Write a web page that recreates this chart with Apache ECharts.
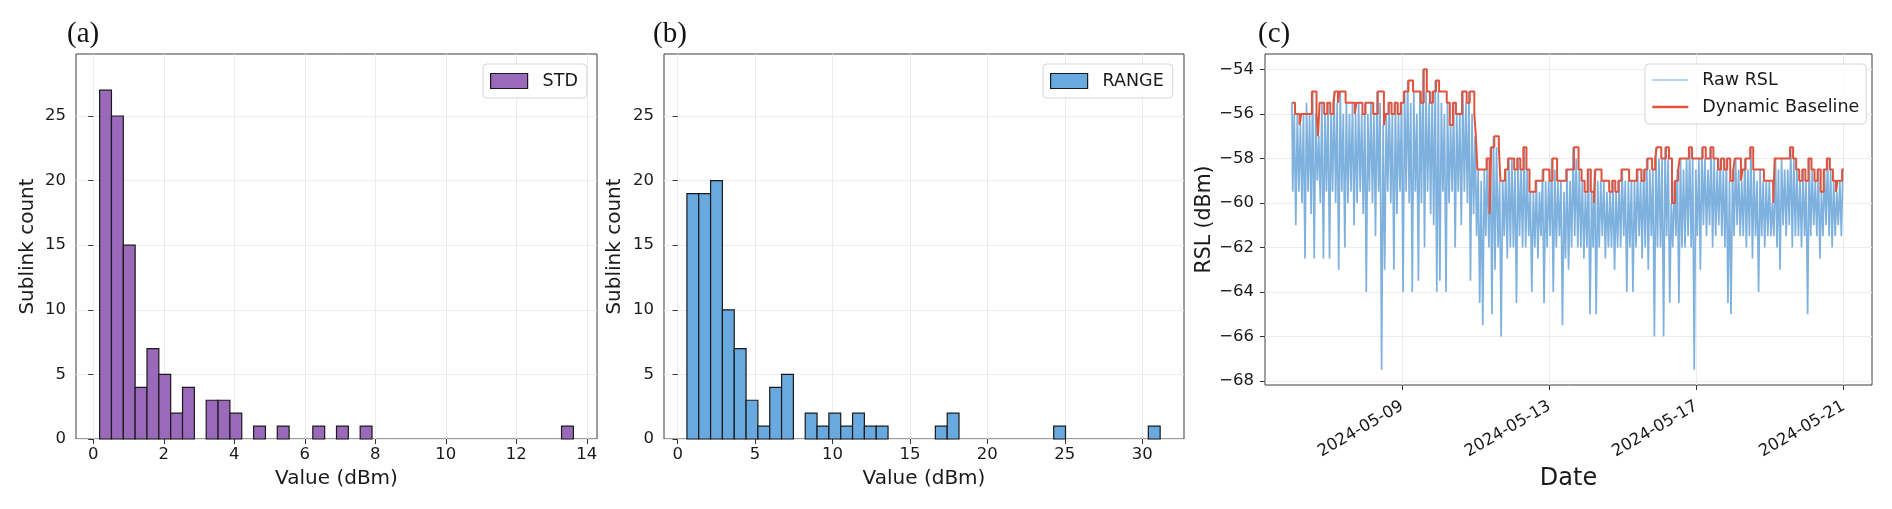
<!DOCTYPE html>
<html>
<head>
<meta charset="utf-8">
<script src="https://cdn.jsdelivr.net/npm/echarts@6.0.0/dist/echarts.min.js"></script>
<style>
html, body { margin: 0; padding: 0; background: #fff; }
#chart { width: 1892px; height: 509px; }
</style>
</head>
<body>
<div id="chart"></div>
<script>
// histogram counts, 40 equal bins each
var stdBinStart = 0.18, stdBinWidth = 0.336;
var stdCounts = [27, 25, 15, 4, 7, 5, 2, 4, 0, 3, 3, 2, 0, 1, 0, 1, 0, 0, 1, 0,
                 1, 0, 1, 0, 0, 0, 0, 0, 0, 0, 0, 0, 0, 0, 0, 0, 0, 0, 0, 1];
var rangeBinStart = 0.6, rangeBinWidth = 0.764;
var rangeCounts = [19, 19, 20, 10, 7, 3, 1, 4, 5, 0, 2, 1, 2, 1, 2, 1, 1, 0, 0, 0,
                   0, 1, 2, 0, 0, 0, 0, 0, 0, 0, 0, 1, 0, 0, 0, 0, 0, 0, 0, 1];
var stdTicks = [0, 2, 4, 6, 8, 10, 12, 14];
var rangeTicks = [0, 5, 10, 15, 20, 25, 30];
var countTicks = [0, 5, 10, 15, 20, 25];

// raw RSL, hourly, one array per day starting 2024-05-06 00:00
var d06 = [-55.5,-59.5,-56,-61,-56,-59.5,-56.5,-60,-56,-62.5,-55.5,-59.5,-56,-60.5,-55,-62.5,-56,-59,-57,-60,-55.5,-62.5,-56,-59.5];
var d07 = [-55.5,-62.5,-56,-59.5,-55,-60,-55.5,-63,-55,-59.5,-56,-62,-55.5,-60,-56,-59.5,-55.5,-61,-56,-60,-55.5,-59.5,-56,-60.5];
var d08 = [-55.5,-64,-56,-59.5,-55.5,-60,-56,-61.5,-55,-59.5,-55.5,-67.5,-56.5,-63,-56,-59.5,-55.5,-60,-56,-63,-55.5,-60.5,-56,-59.5];
var d09 = [-55.5,-64,-55,-59.5,-54.5,-60,-55.5,-64,-55,-59.5,-56,-63.5,-55,-60,-54,-62,-55,-59.5,-55.5,-60.5,-55,-61,-54.5,-64];
var d10 = [-55,-63.5,-55.5,-59.5,-56,-64,-55.5,-60,-56.5,-59.5,-55.5,-62,-56,-59.5,-56,-61,-55,-59.5,-55.5,-60,-55,-63.5,-56,-60.5];
var d11 = [-57,-61.5,-58.5,-64.5,-59,-65.5,-58.5,-61.5,-58,-62,-57.5,-65,-57,-63,-57.5,-62,-59,-66,-59,-61.5,-58.5,-62.5,-58,-62];
var d12 = [-58,-62,-58.5,-64.5,-58,-61.5,-58.5,-62,-57.5,-62,-58.5,-61.5,-59.5,-64,-59.5,-62,-59,-62.5,-59.5,-61.5,-58.5,-64.5,-59,-62];
var d13 = [-59,-61.5,-58,-64,-58.5,-62,-59,-61.5,-59,-65.5,-59.5,-62.5,-58.5,-63,-59,-62,-57.5,-61.5,-58,-62,-58.5,-62,-59,-62.5];
var d14 = [-59.5,-62,-58.5,-65,-59.5,-62,-58.5,-65,-59,-62,-59,-61.5,-59,-62.5,-59.5,-62,-59.5,-62,-59,-63,-59.5,-62,-59,-62];
var d15 = [-58.5,-61.5,-59,-64,-59,-62,-59,-64,-59,-62,-58.5,-61.5,-59,-62.5,-58.5,-62,-58,-63,-58.5,-61.5,-58.5,-66,-57.5,-62];
var d16 = [-58,-62,-58,-66,-57.5,-61.5,-58,-64.5,-60,-62,-59,-61.5,-58.5,-64.5,-58,-62,-58.5,-62,-58,-61.5,-57.5,-62,-58,-67.5];
var d17 = [-58.5,-61.5,-58,-63,-57.5,-61,-58,-61.5,-58.5,-61,-57.5,-62,-58,-61.5,-58.5,-61,-58,-61.5,-58.5,-62,-58,-64.5,-59,-65];
var d18 = [-58.5,-61.5,-58,-61,-58.5,-61.5,-59,-61.5,-58,-62,-58.5,-61.5,-57.5,-62.5,-58.5,-61.5,-59,-64,-58.5,-61.5,-59,-62,-59,-61.5];
var d19 = [-59,-61.5,-60,-61.5,-58,-62,-58.5,-63,-58,-61,-58.5,-61.5,-58.5,-61,-57.5,-62,-58,-61.5,-58.5,-61.5,-59,-62,-58.5,-61.5];
var d20 = [-59,-65,-58,-61.5,-58.5,-61,-59,-61.5,-58.5,-62.5,-59.5,-61.5,-58.5,-61,-58,-61.5,-58.5,-62,-59,-61.5,-59.5,-61,-59,-61.5];
var rawLast = -58.5; // 2024-05-21 00:00

// dynamic baseline: hour (from 05-06 00:00) where a level starts, and the level
var baseHours = [0,2,5,6,13,16,17,18,21,23,25,27,28,30,31,35,41,42,46,48,
  53,56,60,61,63,65,67,69,71,73,76,79,84,86,88,90,92,94,96,101,
  103,105,107,111,114,116,119,120,121,127,129,130,132,135,136,139,141,145,147,149,
  151,153,155,159,164,168,170,173,179,184,187,189,191,193,195,197,198,202,207,209,
  211,213,215,220,225,228,230,232,235,237,238,241,244,246,248,250,252,253,259,261,
  268,270,273,275,278,280,282,284,286,288,289,293,294,296,299,301,308,314,315,325,
  327,329,331,333,335,337,339,341,343,345,347,349,351,353,355,356,359,360];
var baseLevels = [-55.5,-56,-56.5,-56,-55,-56,-57,-55.5,-56,-55.5,-56,-55.5,-55,-55.5,-55,-55.5,-56,-55.5,-56,-55.5,
  -56,-55,-56.5,-56,-55.5,-56,-55.5,-56,-55.5,-55,-54.5,-55,-55.5,-54,-55,-55.5,-55,-54.5,-55,-55.5,
  -56.5,-55.5,-56,-55,-55.5,-55,-56,-57,-58.5,-58,-60.5,-57.5,-57,-57.5,-59,-58.5,-58,-58.5,-58,-58.5,
  -57.5,-58.5,-59.5,-59,-58.5,-59,-58,-59,-58.5,-57.5,-58.5,-59,-59.5,-58.5,-59.5,-60,-58.5,-59,-59.5,-59,
  -59.5,-59,-58.5,-59,-58.5,-59,-58.5,-58,-58.5,-58,-57.5,-58,-57.5,-58,-60,-59,-58.5,-58,-57.5,-58,
  -57.5,-58,-57.5,-58,-58.5,-58,-58.5,-58,-59,-58.5,-58,-59,-58.5,-58,-57.5,-58.5,-59,-60,-58,-57.5,
  -58,-58.5,-59,-58.5,-59,-58,-58.5,-59,-58.5,-59.5,-58.5,-58,-58.5,-59,-59.5,-59,-58.5,-58.5];
var dateTicks = ['2024-05-09', '2024-05-13', '2024-05-17', '2024-05-21'];
var rslTicks = [-68, -66, -64, -62, -60, -58, -56, -54];

var HOUR = 3600 * 1000;
var t0 = Date.UTC(2024, 4, 6);

function histData(start, width, counts) {
    return counts.map(function (c, i) {
        return [start + i * width, start + (i + 1) * width, c];
    });
}

var rawData = [];
[d06, d07, d08, d09, d10, d11, d12, d13, d14, d15, d16, d17, d18, d19, d20].forEach(function (day, d) {
    day.forEach(function (v, i) {
        rawData.push([t0 + (d * 24 + i) * HOUR, v]);
    });
});
rawData.push([t0 + 360 * HOUR, rawLast]);

var baseData = baseHours.map(function (h, i) {
    return [t0 + h * HOUR, baseLevels[i]];
});

var dateTickValues = dateTicks.map(function (s) { return Date.parse(s + 'T00:00:00Z'); });

function renderBar(params, api) {
    var c = api.value(2);
    if (!c) return null;
    var p0 = api.coord([api.value(0), c]);
    var p1 = api.coord([api.value(1), 0]);
    return {
        type: 'rect',
        shape: { x: p0[0], y: p0[1], width: p1[0] - p0[0], height: p1[1] - p0[1] },
        style: api.style({ stroke: '#1a1a1a', lineWidth: 1.2 })
    };
}

var font = 'DejaVu Sans';
var tickLabel = { fontFamily: font, fontSize: 16.5, color: '#1a1a1a' };
var axisTick = function (vals) {
    return { show: true, inside: false, length: 5, customValues: vals, lineStyle: { color: '#333', width: 1 } };
};
var splitLine = { show: true, lineStyle: { color: '#ececec', width: 1 } };
var minus = function (v) { return (v < 0 ? '\u2212' : '') + Math.abs(v); };

var legendBox = {
    orient: 'vertical',
    backgroundColor: 'rgba(255,255,255,0.85)',
    borderColor: '#d6d6d6',
    borderWidth: 1,
    borderRadius: 4,
    textStyle: { fontFamily: font, fontSize: 17.5, color: '#1a1a1a', lineHeight: 20 }
};

var rawColor = 'rgba(108,166,217,0.88)';
var baseColor = '#e0533d';

var chart = echarts.init(document.getElementById('chart'));

var option = {
    animation: false,
    backgroundColor: '#fff',
    title: [
        { text: '(a)', left: 67, top: 20 },
        { text: '(b)', left: 653, top: 20 },
        { text: '(c)', left: 1258, top: 20 }
    ].map(function (t) {
        t.padding = 0;
        t.textStyle = { fontFamily: 'Liberation Serif', fontSize: 29, fontWeight: 'normal', color: '#111' };
        return t;
    }),
    grid: [
        { left: 76, top: 54, width: 521, height: 385 },
        { left: 664, top: 54, width: 520, height: 385 },
        { left: 1265, top: 54, width: 607, height: 331 }
    ].map(function (g) {
        g.show = true;
        g.borderColor = '#3c3c3c';
        g.borderWidth = 1;
        g.containLabel = false;
        return g;
    }),
    legend: [
        Object.assign({}, legendBox, {
            left: 483, top: 64, padding: [7, 9, 7, 7],
            itemWidth: 37, itemHeight: 15,
            textStyle: Object.assign({}, legendBox.textStyle, { padding: [0, 0, 0, 10] }),
            data: [{ name: 'STD', icon: 'rect', itemStyle: { color: '#9b69b9', borderColor: '#1a1a1a', borderWidth: 1.2 } }]
        }),
        Object.assign({}, legendBox, {
            left: 1043, top: 64, padding: [7, 9, 7, 7],
            itemWidth: 37, itemHeight: 15,
            textStyle: Object.assign({}, legendBox.textStyle, { padding: [0, 0, 0, 10] }),
            data: [{ name: 'RANGE', icon: 'rect', itemStyle: { color: '#68a9df', borderColor: '#1a1a1a', borderWidth: 1.2 } }]
        }),
        Object.assign({}, legendBox, {
            left: 1645, top: 64, padding: [6, 7, 7, 6],
            itemWidth: 36, itemHeight: 14, itemGap: 7,
            textStyle: Object.assign({}, legendBox.textStyle, { padding: [0, 0, 0, 9] }),
            data: [
                { name: 'Raw RSL', itemStyle: { opacity: 0 }, lineStyle: { color: '#9cc5ea', width: 1.5 } },
                { name: 'Dynamic Baseline', itemStyle: { opacity: 0 }, lineStyle: { color: baseColor, width: 2.6 } }
            ]
        })
    ],
    xAxis: [
        {
            gridIndex: 0, type: 'value', min: -0.49, max: 14.29,
            name: 'Value (dBm)', nameLocation: 'middle', nameGap: 30,
            nameTextStyle: { fontFamily: font, fontSize: 20, color: '#1a1a1a' },
            axisLine: { show: false }, axisTick: axisTick(stdTicks),
            axisLabel: Object.assign({ customValues: stdTicks, margin: 7 }, tickLabel),
            splitLine: splitLine
        },
        {
            gridIndex: 1, type: 'value', min: -0.88, max: 32.7,
            name: 'Value (dBm)', nameLocation: 'middle', nameGap: 30,
            nameTextStyle: { fontFamily: font, fontSize: 20, color: '#1a1a1a' },
            axisLine: { show: false }, axisTick: axisTick(rangeTicks),
            axisLabel: Object.assign({ customValues: rangeTicks, margin: 7 }, tickLabel),
            splitLine: splitLine
        },
        {
            // time in ms, drawn on a plain value scale with fixed date ticks
            gridIndex: 2, type: 'value',
            min: t0 - 17.6 * HOUR, max: t0 + 378.5 * HOUR,
            name: 'Date', nameLocation: 'middle', nameGap: 78,
            nameTextStyle: { fontFamily: font, fontSize: 24, color: '#1a1a1a' },
            axisLine: { show: false }, axisTick: axisTick(dateTickValues),
            axisLabel: Object.assign({
                customValues: dateTickValues, rotate: 30, margin: 20,
                formatter: function (v) {
                    var i = dateTickValues.indexOf(v);
                    return i >= 0 ? dateTicks[i] : '';
                }
            }, tickLabel),
            splitLine: splitLine
        }
    ],
    yAxis: [
        {
            gridIndex: 0, type: 'value', min: 0, max: 29.8,
            name: 'Sublink count', nameLocation: 'middle', nameGap: 38,
            nameTextStyle: { fontFamily: font, fontSize: 20, color: '#1a1a1a' },
            axisLine: { show: false }, axisTick: axisTick(countTicks),
            axisLabel: Object.assign({ customValues: countTicks, margin: 10 }, tickLabel),
            splitLine: splitLine
        },
        {
            gridIndex: 1, type: 'value', min: 0, max: 29.8,
            name: 'Sublink count', nameLocation: 'middle', nameGap: 39,
            nameTextStyle: { fontFamily: font, fontSize: 20, color: '#1a1a1a' },
            axisLine: { show: false }, axisTick: axisTick(countTicks),
            axisLabel: Object.assign({ customValues: countTicks, margin: 10 }, tickLabel),
            splitLine: splitLine
        },
        {
            gridIndex: 2, type: 'value', min: -68.18, max: -53.31,
            name: 'RSL (dBm)', nameLocation: 'middle', nameGap: 48,
            nameTextStyle: { fontFamily: font, fontSize: 20.5, color: '#1a1a1a' },
            axisLine: { show: false }, axisTick: axisTick(rslTicks),
            axisLabel: Object.assign({ customValues: rslTicks, margin: 11, formatter: minus }, tickLabel),
            splitLine: splitLine
        }
    ],
    series: [
        {
            name: 'STD', type: 'custom', xAxisIndex: 0, yAxisIndex: 0,
            renderItem: renderBar, encode: { x: [0, 1], y: 2 },
            itemStyle: { color: '#9b69b9' },
            data: histData(stdBinStart, stdBinWidth, stdCounts)
        },
        {
            name: 'RANGE', type: 'custom', xAxisIndex: 1, yAxisIndex: 1,
            renderItem: renderBar, encode: { x: [0, 1], y: 2 },
            itemStyle: { color: '#68a9df' },
            data: histData(rangeBinStart, rangeBinWidth, rangeCounts)
        },
        {
            // quantised samples: hold each reading until the next one
            name: 'Raw RSL', type: 'line', xAxisIndex: 2, yAxisIndex: 2,
            symbol: 'none', step: 'middle', itemStyle: { color: rawColor },
            lineStyle: { color: rawColor, width: 1.7 },
            data: rawData, z: 2
        },
        {
            name: 'Dynamic Baseline', type: 'line', xAxisIndex: 2, yAxisIndex: 2,
            symbol: 'none', step: 'end', itemStyle: { color: baseColor },
            lineStyle: { color: baseColor, width: 2 },
            data: baseData, z: 3
        }
    ]
};

chart.setOption(option);
</script>
</body>
</html>
